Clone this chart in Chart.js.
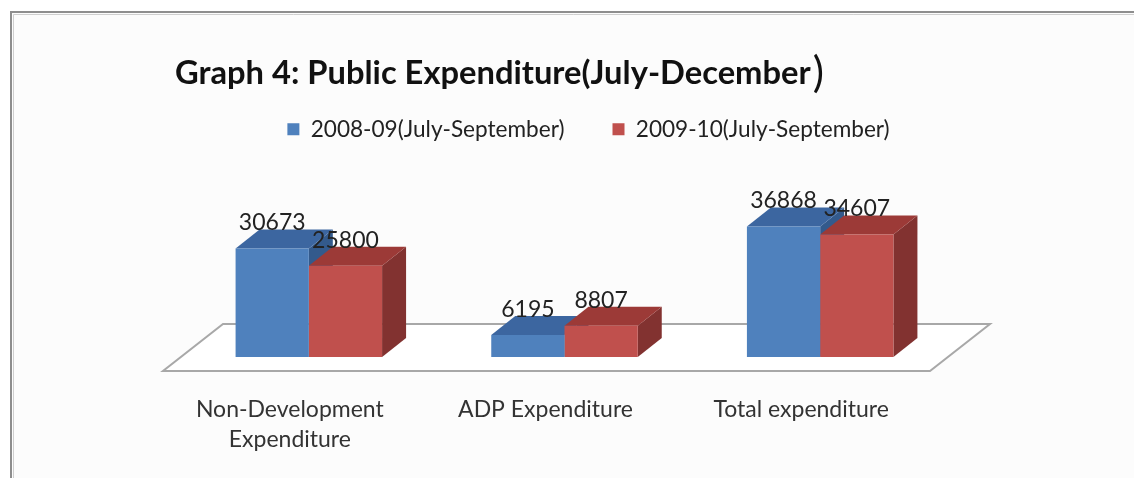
<!DOCTYPE html>
<html>
<head>
<meta charset="utf-8">
<script src="https://cdn.jsdelivr.net/npm/chart.js@4/dist/chart.umd.min.js"></script>
<style>
html,body{margin:0;padding:0;background:#ffffff;}
#wrap{width:1134px;height:478px;position:relative;}
</style>
</head>
<body>
<div id="wrap"><canvas id="c" width="1134" height="478"></canvas></div>
<script>
const categories = [["Non-Development","Expenditure"], "ADP Expenditure", "Total expenditure"];
const seriesNames = ["2008-09(July-September)", "2009-10(July-September)"];
const values2008 = [30673, 6195, 36868];
const values2009 = [25800, 8807, 34607];
const titleText = "Graph 4: Public Expenditure(July-December";

const FONT = "Lato, 'Open Sans', sans-serif";
const faces = [
  {front:'#4f81bd', top:'#3c66a0', side:'#335a8c'},
  {front:'#c0504d', top:'#9c3a37', side:'#823230'}
];
// depth geometry (px)
const BAR_DX = 24, BAR_DY = 19, FRONT_DX = 18, FRONT_DY = 14, BACK_DX = 42, BACK_DY = 33;

const framePlugin = {
  id:'frame',
  beforeDraw(chart){
    const ctx = chart.ctx;
    ctx.save();
    ctx.fillStyle = '#fcfcfc';
    ctx.fillRect(11,12,1134,478);
    ctx.strokeStyle = '#cfcfcf';
    ctx.lineWidth = 1;
    ctx.beginPath(); ctx.moveTo(13.5,478); ctx.lineTo(13.5,14.5); ctx.lineTo(1134,14.5); ctx.stroke();
    ctx.strokeStyle = '#8e8e8e';
    ctx.lineWidth = 2;
    ctx.beginPath(); ctx.moveTo(11,478); ctx.lineTo(11,12); ctx.lineTo(1134,12); ctx.stroke();
    ctx.restore();
  },
  afterDraw(chart){
    const ctx = chart.ctx;
    ctx.save();
    ctx.fillStyle = '#111';
    ctx.font = "bold 32.7px " + FONT;
    ctx.textBaseline = 'alphabetic';
    ctx.textAlign = 'left';
    ctx.fillText(titleText, 175, 84);
    const w = ctx.measureText(titleText).width;
    ctx.font = "42px " + FONT;
    ctx.fillText(")", 175 + w + 2, 87);
    ctx.restore();
  }
};

const bar3dPlugin = {
  id:'bar3d',
  beforeDatasetsDraw(chart){
    const ctx = chart.ctx;
    const a = chart.chartArea;
    const b = a.bottom;
    ctx.save();
    // floor
    ctx.strokeStyle = '#a8a8a8';
    ctx.lineWidth = 2;
    ctx.fillStyle = '#ffffff';
    ctx.beginPath();
    ctx.moveTo(a.left - FRONT_DX, b + FRONT_DY);
    ctx.lineTo(a.right - FRONT_DX, b + FRONT_DY);
    ctx.lineTo(a.right + BACK_DX, b - BACK_DY);
    ctx.lineTo(a.left + BACK_DX, b - BACK_DY);
    ctx.closePath();
    ctx.fill();
    ctx.stroke();
    // side and top faces
    const n = chart.data.labels.length;
    for (let i = 0; i < n; i++) {
      chart.data.datasets.forEach((ds, di) => {
        const el = chart.getDatasetMeta(di).data[i];
        const x0 = el.x - el.width/2, x1 = el.x + el.width/2, y = el.y, yb = el.base;
        const f = faces[di];
        ctx.fillStyle = f.side;
        ctx.beginPath();
        ctx.moveTo(x1, y); ctx.lineTo(x1 + BAR_DX, y - BAR_DY);
        ctx.lineTo(x1 + BAR_DX, yb - BAR_DY); ctx.lineTo(x1, yb); ctx.closePath(); ctx.fill();
        ctx.fillStyle = f.top;
        ctx.beginPath();
        ctx.moveTo(x0, y); ctx.lineTo(x1, y); ctx.lineTo(x1 + BAR_DX, y - BAR_DY);
        ctx.lineTo(x0 + BAR_DX, y - BAR_DY); ctx.closePath(); ctx.fill();
      });
    }
    ctx.restore();
  },
  afterDatasetsDraw(chart){
    const ctx = chart.ctx;
    ctx.save();
    ctx.fillStyle = '#222';
    ctx.font = "23px " + FONT;
    ctx.textAlign = 'center';
    ctx.textBaseline = 'alphabetic';
    chart.data.datasets.forEach((ds, di) => {
      chart.getDatasetMeta(di).data.forEach((el, i) => {
        ctx.fillText(String(ds.data[i]), el.x, el.y - BAR_DY + 1);
      });
    });
    ctx.restore();
  }
};

new Chart(document.getElementById('c'), {
  type:'bar',
  data:{
    labels: categories,
    datasets:[
      {label: seriesNames[0], data: values2008, backgroundColor: faces[0].front, borderWidth:0},
      {label: seriesNames[1], data: values2009, backgroundColor: faces[1].front, borderWidth:0}
    ]
  },
  options:{
    responsive:false,
    animation:false,
    devicePixelRatio:1,
    layout:{padding:{left:181, right:138, top:70, bottom:0}},
    datasets:{bar:{categoryPercentage:0.573, barPercentage:1}},
    plugins:{
      legend:{
        display:true,
        position:'top',
        labels:{
          font:{family:FONT, size:22.6},
          color:'#222',
          boxWidth:12, boxHeight:12,
          padding:48
        }
      },
      title:{display:false},
      tooltip:{enabled:false}
    },
    scales:{
      x:{
        grid:{display:false, drawTicks:false},
        border:{display:false},
        ticks:{font:{family:FONT, size:23, lineHeight:1.3}, color:'#333', padding:38, labelOffset:-19, maxRotation:0, autoSkip:false},
        afterFit(axis){ axis.height = 121; }
      },
      y:{
        position:'right',
        min:0, max:58300,
        grid:{display:false, drawTicks:false},
        border:{display:false},
        ticks:{display:false},
        afterFit(axis){ axis.width = 48; }
      }
    }
  },
  plugins:[framePlugin, bar3dPlugin]
});
</script>
</body>
</html>
